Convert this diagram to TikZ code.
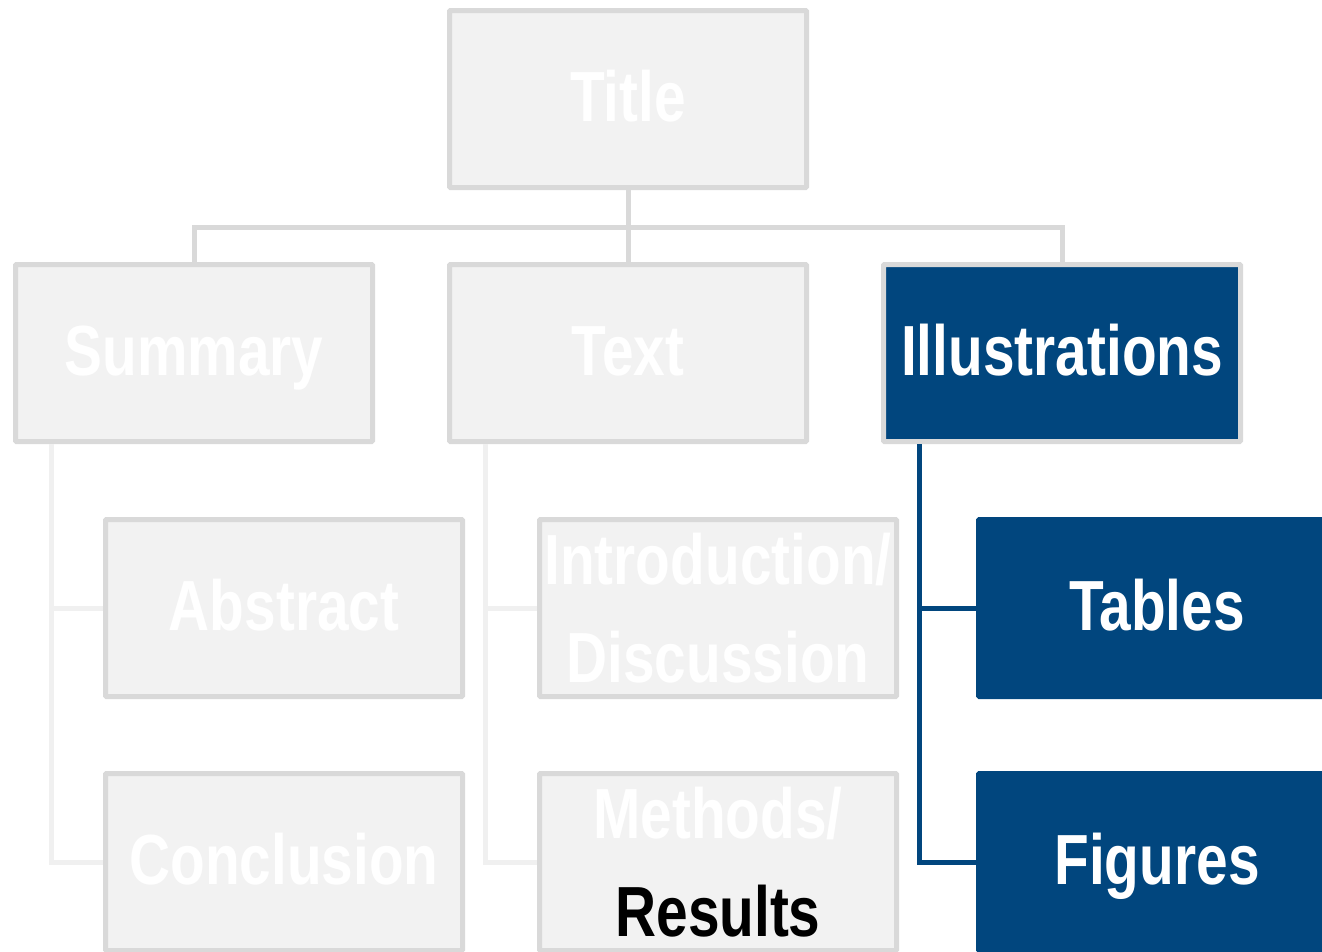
\documentclass[tikz,border=0pt]{standalone}
\usepackage{fontspec}
\newfontfamily\boxfont{Liberation Sans}[FakeStretch=0.8]
\definecolor{navyblue}{HTML}{01467E}
\definecolor{boxgray}{HTML}{F2F2F2}
\definecolor{linegray}{HTML}{D9D9D9}
\definecolor{faintgray}{HTML}{F0F0F0}

\begin{document}
\begin{tikzpicture}[x=1pt, y=-1pt, line width=5pt,
		box/.style={draw=linegray, fill=boxgray, text=white, rounded corners=1pt,
			minimum width=357pt, minimum height=177pt, inner sep=0pt, align=center,
			font=\boxfont\bfseries\fontsize{71}{98}\selectfont},
		oneline/.style={text height=51pt, text depth=7pt},
		hibox/.style={box, oneline, fill=navyblue},
		leaf/.style={box, oneline, draw=navyblue, fill=navyblue}]
			\useasboundingbox (0,0) rectangle (1322,951);
			\clip (0,0) rectangle (1322,951);
			\node[box, oneline] (title) at (628,99) {Title};
			\node[box, oneline] (summary) at (194,353) {Summary};
			\node[box, oneline] (text) at (628,353) {Text};
			\node[hibox] (illus) at (1062,353) {Illustrations};
			\node[box, oneline] (abstract) at (284,608) {Abstract};
			\node[box, oneline] (conclusion) at (284,862) {Conclusion};
			\node[box] (intro) at (718,608) {Introduction/\\Discussion};
			\node[box] (methods) at (718,862) {Methods/\\\textcolor{black}{Results}};
			\node[leaf] (tables) at (1157,608) {Tables};
			\node[leaf] (figures) at (1157,862) {Figures};
			\coordinate (bus) at (628,227);
			\draw[linegray] (title) -- (text);
			\draw[linegray] (summary.north) |- (bus) -| (illus.north);
			\draw[faintgray] ([xshift=38pt]summary.south west) |- (abstract.west);
			\draw[faintgray] ([xshift=38pt]summary.south west) |- (conclusion.west);
			\draw[faintgray] ([xshift=38pt]text.south west) |- (intro.west);
			\draw[faintgray] ([xshift=38pt]text.south west) |- (methods.west);
			\draw[navyblue] ([xshift=38pt]illus.south west) |- (tables.west);
			\draw[navyblue] ([xshift=38pt]illus.south west) |- (figures.west);
		\end{tikzpicture}
\end{document}
